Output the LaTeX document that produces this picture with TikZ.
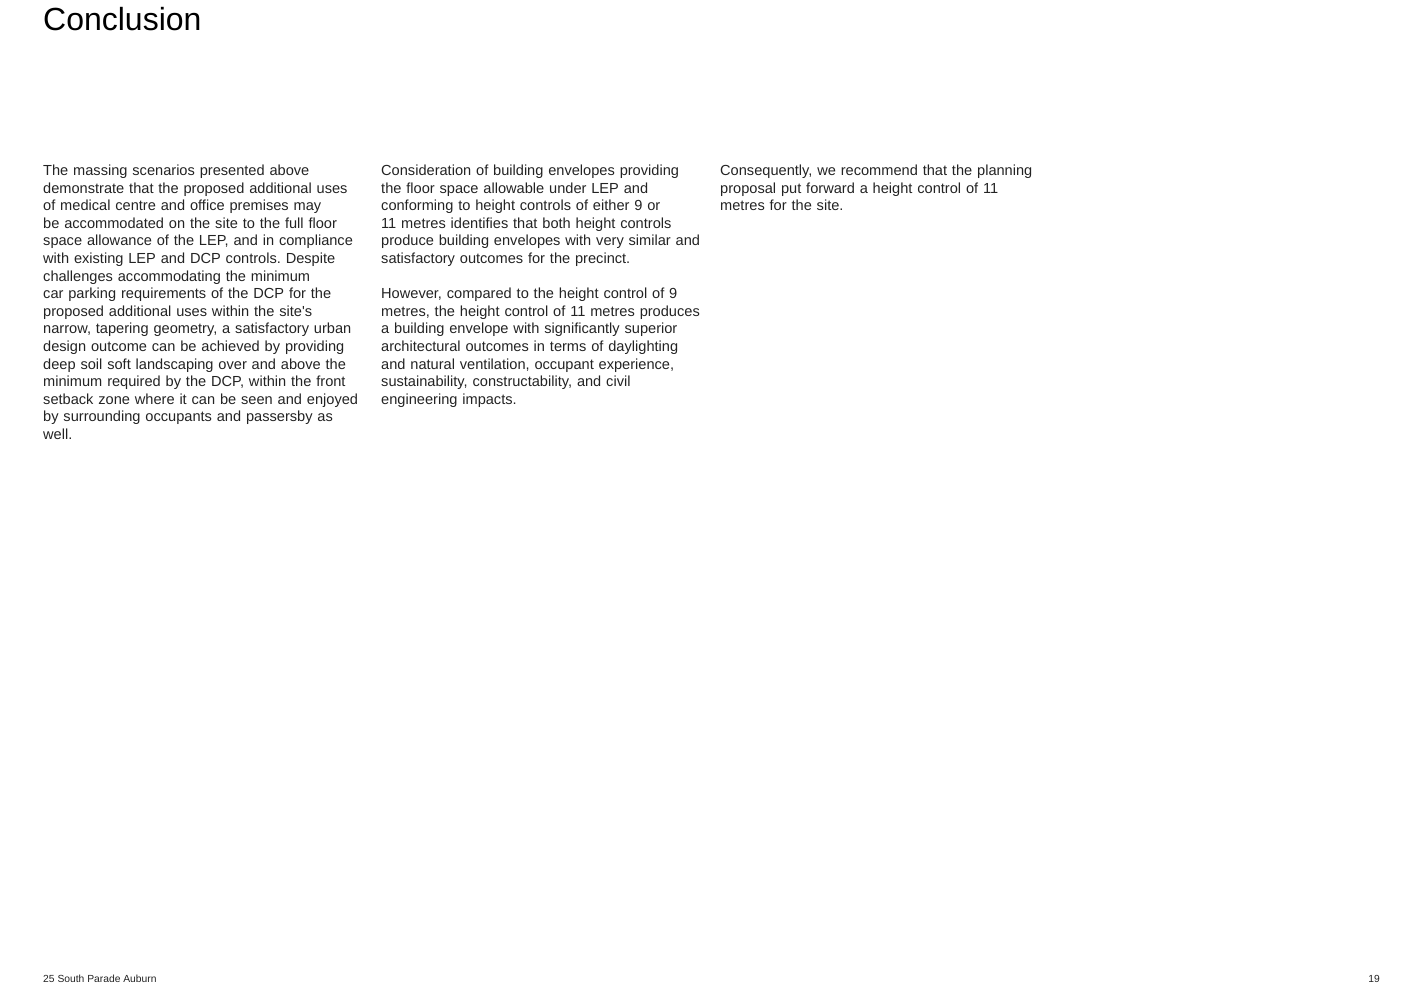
\documentclass[tikz,border=0pt]{standalone}
\usepackage{fontspec}
\setmainfont{Liberation Sans}
\definecolor{ink}{HTML}{232323}
\begin{document}
\frenchspacing
\begin{tikzpicture}[x=1pt,y=-1pt,
    title/.style={anchor=base west,inner sep=0pt,text=black,font=\fontsize{32}{36}\selectfont},
    body/.style={anchor=base west,inner sep=0pt,text=ink,align=left,text width=330pt,
      font=\fontsize{14.6}{17.6}\selectfont},
    foot/.style={inner sep=0pt,text=ink,font=\fontsize{10.3}{12}\selectfont}]
  \useasboundingbox (0,0) rectangle (1422,989);
  \node[title] (head) at (43,30) {Conclusion};
  % three text columns
  \node[body] (colA) at (43,175.5) {The massing scenarios presented above\\
    demonstrate that the proposed additional uses\\
    of medical centre and office premises may\\
    be accommodated on the site to the full floor\\
    space allowance of the LEP, and in compliance\\
    with existing LEP and DCP controls. Despite\\
    challenges accommodating the minimum\\
    car parking requirements of the DCP for the\\
    proposed additional uses within the site\textquotesingle s\\
    narrow, tapering geometry, a satisfactory urban\\
    design outcome can be achieved by providing\\
    deep soil soft landscaping over and above the\\
    minimum required by the DCP, within the front\\
    setback zone where it can be seen and enjoyed\\
    by surrounding occupants and passersby as\\
    well.};
  \node[body] (colB) at (381,175.5) {Consideration of building envelopes providing\\
    the floor space allowable under LEP and\\
    conforming to height controls of either 9 or\\
    11 metres identifies that both height controls\\
    produce building envelopes with very similar and\\
    satisfactory outcomes for the precinct.\\[17.6pt]
    However, compared to the height control of 9\\
    metres, the height control of 11 metres produces\\
    a building envelope with significantly superior\\
    architectural outcomes in terms of daylighting\\
    and natural ventilation, occupant experience,\\
    sustainability, constructability, and civil\\
    engineering impacts.};
  \node[body] (colC) at (720,175.5) {Consequently, we recommend that the planning\\
    proposal put forward a height control of 11\\
    metres for the site.};
  % footer
  \node[foot,anchor=base west] (site) at (43,982) {25 South Parade Auburn};
  \node[foot,anchor=base east] (page) at (1380,982) {19};
\end{tikzpicture}
\end{document}
